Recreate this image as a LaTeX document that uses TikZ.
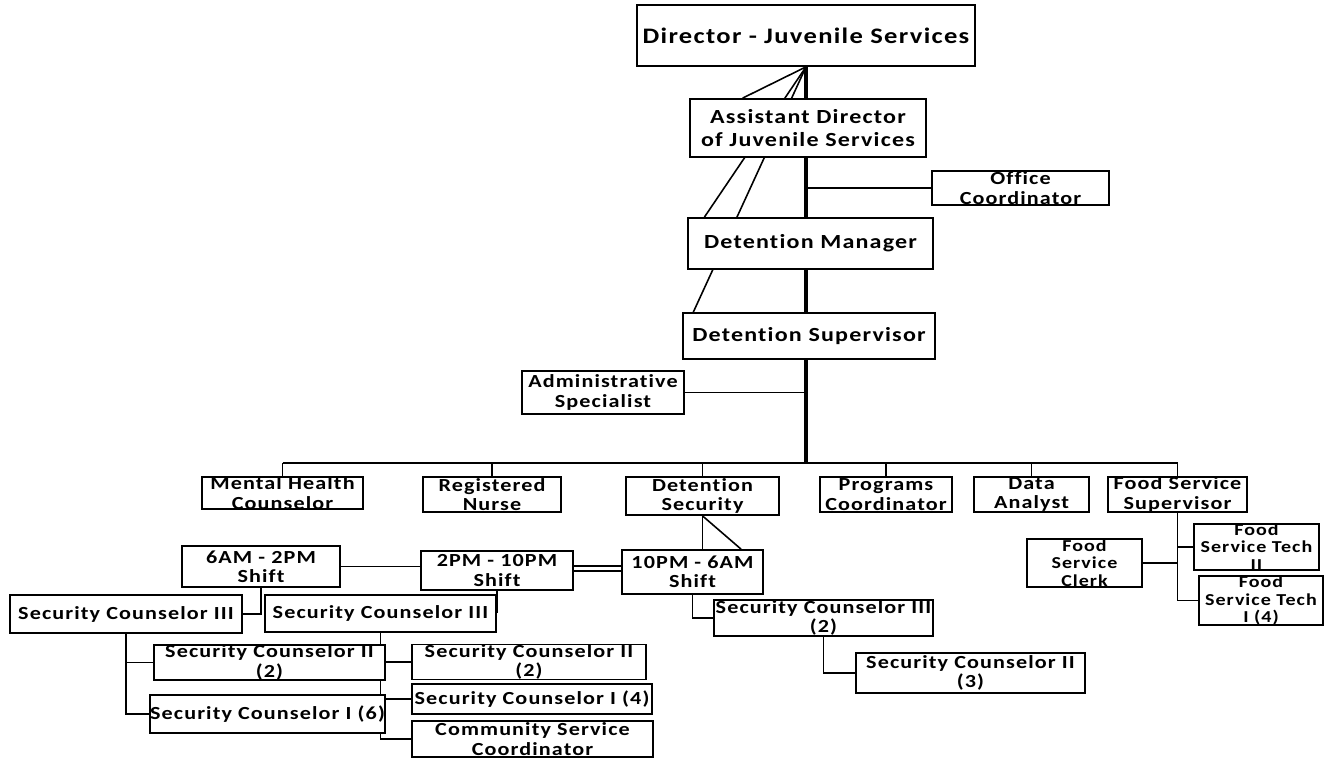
\documentclass[tikz,border=0pt]{standalone}
\usepackage{fontspec}
\setmainfont{Carlito}[FakeStretch=1.2, LetterSpace=6, Ligatures=NoCommon]
\usetikzlibrary{calc,backgrounds}

\begin{document}
\begin{tikzpicture}[x=0.02cm, y=-0.02cm,
  post/.style={draw, fill=white, line width=1pt, align=center, inner xsep=1pt, inner ysep=0pt,
    font=\bfseries\fontsize{10.5}{11}\selectfont},
  chief/.style={post, font=\bfseries\fontsize{11.4}{13}\selectfont},
  foodpost/.style={post, inner xsep=0pt, font=\bfseries\fontsize{9.5}{9.8}\selectfont},
  link/.style={line width=0.9pt},
  trunk/.style={line width=2.6pt}]
\useasboundingbox (0,0) rectangle (1330,759);
\node[chief, minimum width=6.76cm, minimum height=1.22cm, font=\bfseries\fontsize{12.6}{13}\selectfont] (director) at (806,35.5) {Director - Juvenile Services};
\node[chief, minimum width=4.72cm, minimum height=1.16cm] (assistant) at (808,128) {Assistant Director\\of Juvenile Services};
\node[post, minimum width=3.54cm, minimum height=0.68cm] (office) at (1020.5,188) {Office\\Coordinator};
\node[chief, minimum width=4.9cm, minimum height=1.02cm] (manager) at (810.5,243.5) {Detention Manager};
\node[chief, minimum width=5.04cm, minimum height=0.92cm] (supervisor) at (809,336) {Detention Supervisor};
\node[post, minimum width=3.24cm, minimum height=0.86cm] (admin) at (603,392.5) {Administrative\\Specialist};
\coordinate (bus) at (806,463);

\node[post, minimum width=3.22cm, minimum height=0.64cm] (health) at (282.5,493) {Mental Health\\Counselor};
\node[post, minimum width=2.76cm, minimum height=0.7cm] (nurse) at (492,494.5) {Registered\\Nurse};
\node[post, minimum width=3.06cm, minimum height=0.76cm] (security) at (702.5,496) {Detention\\Security};
\node[post, minimum width=2.64cm, minimum height=0.7cm] (programs) at (886,494.5) {Programs\\Coordinator};
\node[post, minimum width=2.3cm, minimum height=0.7cm] (analyst) at (1031.5,494.5) {Data\\Analyst};
\node[post, minimum width=2.78cm, minimum height=0.7cm] (food) at (1177.5,494.5) {Food Service\\Supervisor};

\node[foodpost, minimum width=2.5cm, minimum height=0.84cm] (techtwo) at (1256.5,547) {Food\\Service Tech\\II};
\node[foodpost, minimum width=2.48cm, minimum height=0.86cm] (techone) at (1261,600.5) {Food\\Service Tech\\I (4)};
\node[foodpost, minimum width=2.3cm, minimum height=0.96cm] (clerk) at (1084.5,563) {Food\\Service\\Clerk};

\node[post, minimum width=3.16cm, minimum height=0.82cm] (day) at (261,566.5) {6AM - 2PM\\Shift};
\node[post, minimum width=3.04cm, minimum height=0.78cm] (swing) at (497,570.5) {2PM - 10PM\\Shift};
\node[post, minimum width=2.82cm, minimum height=0.88cm] (night) at (692.5,572) {10PM - 6AM\\Shift};

\node[post, minimum width=4.64cm, minimum height=0.76cm] (dayiii) at (126,614) {Security Counselor III};
\node[post, minimum width=4.62cm, minimum height=0.74cm] (swingiii) at (380.5,613.5) {Security Counselor III};
\node[post, minimum width=4.62cm, minimum height=0.7cm] (dayii) at (269.5,662.5) {Security Counselor II\\(2)};
\node[post, minimum width=4.54cm, minimum height=0.76cm, inner xsep=0pt] (dayi) at (267.5,714) {Security Counselor I (6)};
\node[post, minimum width=4.68cm, minimum height=0.68cm] (swingii) at (529,662) {Security Counselor II\\(2)};
\node[post, minimum width=4.8cm, minimum height=0.6cm] (swingi) at (532,699) {Security Counselor I (4)};
\node[post, minimum width=4.82cm, minimum height=0.72cm] (community) at (532.5,739) {Community Service\\Coordinator};
\node[post, minimum width=4.38cm, minimum height=0.72cm] (nightiii) at (823.5,618) {Security Counselor III\\(2)};
\node[post, minimum width=4.58cm, minimum height=0.8cm] (nightii) at (970.5,673) {Security Counselor II\\(3)};

\begin{scope}[on background layer]
\draw[trunk] (director.south) -- (bus);
\draw[link] (director.south) -- ($(assistant.north west)!0.225!(assistant.north east)$);
\draw[link] (director.south) -- ($(manager.north west)!0.07!(manager.north east)$);
\draw[link] (director.south) -- ($(supervisor.north west)!0.044!(supervisor.north east)$);
\draw[link] (office.west) -- (office.west -| bus);
\draw[link] (admin.east) -- (admin.east -| bus);
\draw[link] (health.north |- bus) -- (food.north |- bus);
\foreach \unit in {health,nurse,security,programs,analyst,food}
  \draw[link] (\unit.north |- bus) -- (\unit.north);
\draw[link] (security.south) -- (security.south |- night.north);
\draw[link] (security.south) -- ($(night.north west)!0.84!(night.north east)$);
\draw[link, double, double distance=1.8pt] ([yshift=0.04cm]swing.east) -- ([yshift=0.04cm]swing.east -| night.west);
\draw[link] (day.east) -- (day.east -| swing.west);
\draw[link] (day.south) |- (dayiii.east);
\draw[link] (swing.south) -- (swing.south |- swingiii.east);
\draw[link] (dayiii.south) |- (dayii.west);
\draw[link] (dayiii.south) |- (dayi.west);
\draw[link] (swingiii.south) |- (swingii.west);
\draw[link] (swingiii.south) |- (swingi.west);
\draw[link] (swingiii.south) |- (community.west);
\draw[link] (night.south) |- (nightiii.west);
\draw[link] (nightiii.south) |- (nightii.west);
\draw[link] (food.south) |- (techtwo.west);
\draw[link] (food.south) |- (techone.west);
\draw[link] (clerk.east) -- (clerk.east -| food.south);
\end{scope}
\end{tikzpicture}
\end{document}
